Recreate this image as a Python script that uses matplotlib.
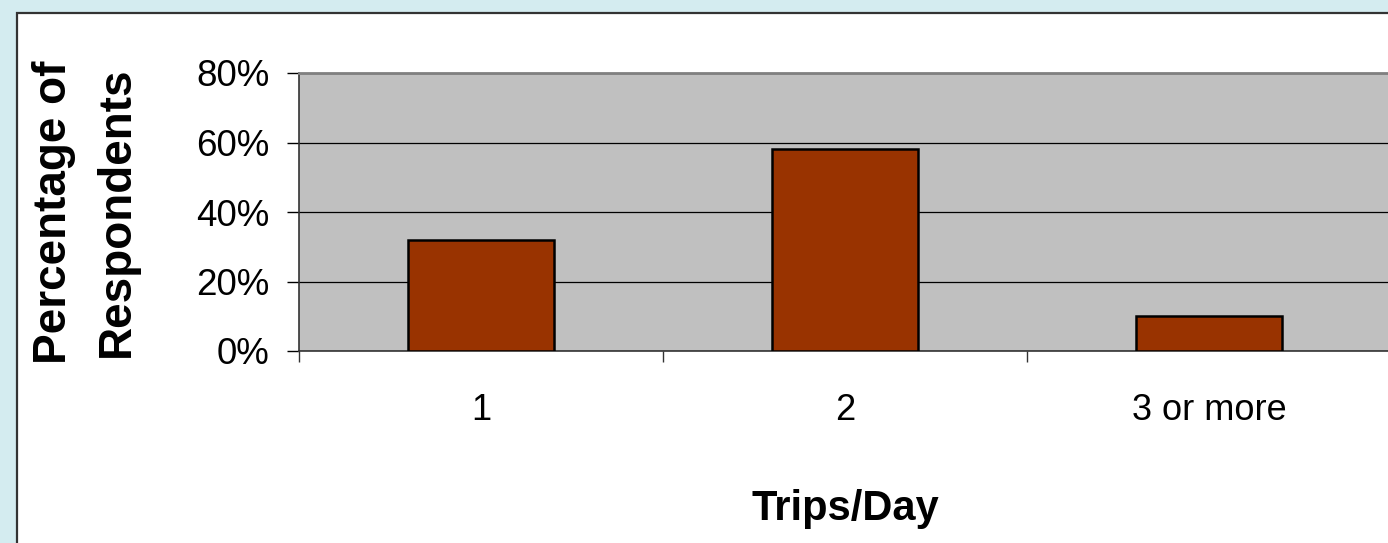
import matplotlib
matplotlib.use("Agg")
import matplotlib.pyplot as plt
from matplotlib.patches import Rectangle
from matplotlib.ticker import FixedLocator, PercentFormatter

plt.rcParams['font.family'] = ['Liberation Sans', 'DejaVu Sans']

# survey results
categories = ['1', '2', '3 or more']
shares = [32, 58, 10]          # percent of respondents
y_ticks = [0, 20, 40, 60, 80]

W, H = 1388, 543
fig = plt.figure(figsize=(W / 100, H / 100), dpi=100)
fig.patch.set_facecolor('#d4ecf0')

# white chart panel with dark frame (runs off the right/bottom edge)
panel = Rectangle((17 / W, -0.2), 1.2, (H - 13) / H + 0.2,
                  transform=fig.transFigure, facecolor='white',
                  edgecolor='#333333', linewidth=1.6, zorder=-1)
fig.patches.append(panel)

left, right = 299 / W, 1391 / W
bottom, top = (H - 351) / H, (H - 73) / H
ax = fig.add_axes([left, bottom, right - left, top - bottom])
ax.set_facecolor('#c0c0c0')

x = range(len(categories))
ax.bar(x, shares, width=0.4, color='#993300', edgecolor='black',
       linewidth=1.8, zorder=3)

ax.set_xlim(-0.5, 2.5)
ax.set_ylim(0, 80)
ax.set_yticks(y_ticks)
ax.yaxis.set_major_formatter(PercentFormatter(decimals=0))

# category labels centred, tick marks on the boundaries
ax.set_xticks(list(x))
ax.set_xticklabels(categories)
ax.xaxis.set_minor_locator(FixedLocator([-0.5, 0.5, 1.5]))
ax.tick_params(axis='x', which='major', length=0, pad=30, labelsize=26)
ax.tick_params(axis='x', which='minor', length=8, width=1, color='#333333',
               direction='out')
ax.tick_params(axis='y', length=8.5, width=1, color='black', pad=13,
               labelsize=26.5, direction='out')

ax.yaxis.grid(True, color='black', linewidth=0.9, zorder=1)
ax.set_axisbelow(True)

ax.spines['top'].set_color('#808080')
ax.spines['top'].set_linewidth(2)
ax.spines['right'].set_visible(False)
ax.spines['left'].set_color('#333333')
ax.spines['left'].set_linewidth(1.2)
ax.spines['bottom'].set_color('#333333')
ax.spines['bottom'].set_linewidth(1.2)

fig.text(54 / W, 1 - 212 / H, 'Percentage of', rotation=90, fontsize=33,
         fontweight='bold', ha='center', va='center')
fig.text(117 / W, 1 - 212 / H, 'Respondents', rotation=90, fontsize=33,
         fontweight='bold', ha='center', va='center')
fig.text(845 / W, 1 - 509 / H, 'Trips/Day', fontsize=30,
         fontweight='bold', ha='center', va='center')

fig.savefig('out.png', dpi=100, facecolor=fig.get_facecolor())
